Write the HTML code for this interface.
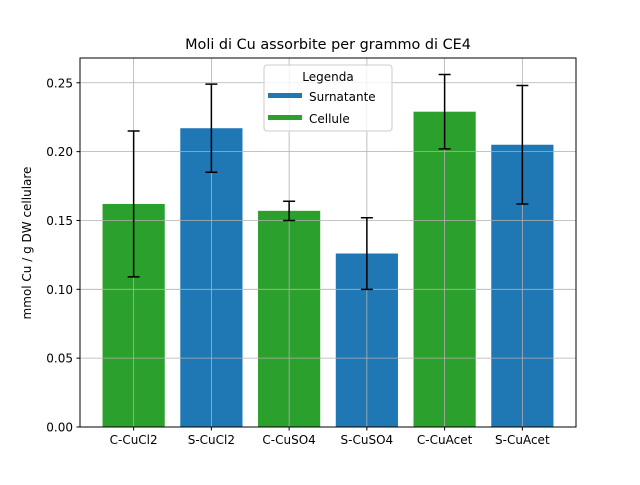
<!DOCTYPE html>
<html><head><meta charset="utf-8"><style>
html,body{margin:0;padding:0;background:#fff;}
svg text{font-family:"DejaVu Sans","Liberation Sans",sans-serif;}
</style></head><body>
<svg id="chart" width="640" height="480" xmlns="http://www.w3.org/2000/svg">
<rect width="640" height="480" fill="#fff"/>
<text x="328" y="49" font-size="14.4" text-anchor="middle" fill="#000">Moli di Cu assorbite per grammo di CE4</text>
<g id="bars"></g>
<g id="grid"></g>
<g id="errs"></g>
<rect x="80" y="58" width="496" height="369" fill="none" stroke="#000" stroke-width="1"/>
<g id="ticks"></g>
<text transform="translate(31,243) rotate(-90)" font-size="12" text-anchor="middle">mmol Cu / g DW cellulare</text>
<g>
<rect x="264" y="65" width="128" height="66" rx="3" fill="#fff" fill-opacity="0.8" stroke="#ccc"/>
<text x="328" y="81" font-size="12" text-anchor="middle">Legenda</text>
<rect x="268" y="93" width="34" height="5" fill="#1f77b4"/>
<text x="309" y="101" font-size="12">Surnatante</text>
<rect x="268" y="115" width="34" height="5" fill="#2ca02c"/>
<text x="309" y="123" font-size="12">Cellule</text>
</g>
</svg>
<script>
const categories=["C-CuCl2","S-CuCl2","C-CuSO4","S-CuSO4","C-CuAcet","S-CuAcet"];
const values=[0.162,0.217,0.157,0.126,0.229,0.205];
const errors=[0.053,0.032,0.007,0.026,0.027,0.043];
const groups=["C","S","C","S","C","S"];
const yTicks=[0,0.05,0.10,0.15,0.20,0.25];
const yTickLabels=["0.00","0.05","0.10","0.15","0.20","0.25"];
const L=80,R=576,T=58,B=427,xmin=-0.69,xmax=5.69,ymax=0.268;
const xs=i=>L+(i-xmin)/(xmax-xmin)*(R-L);
const ys=v=>B-v/ymax*(B-T);
const NS="http://www.w3.org/2000/svg";
function mk(tag,attrs,parent){const e=document.createElementNS(NS,tag);for(const k in attrs)e.setAttribute(k,attrs[k]);document.getElementById(parent).appendChild(e);return e;}
const bw=(0.8)/(xmax-xmin)*(R-L);
categories.forEach((c,i)=>{
 const r=mk('rect',{x:xs(i)-bw/2,y:ys(values[i]),width:bw,height:B-ys(values[i]),fill:groups[i]==="C"?"#2ca02c":"#1f77b4"},'bars');
 
 
 const g=mk('line',{x1:xs(i),x2:xs(i),y1:T,y2:B,stroke:"#b0b0b0","stroke-width":0.8},'grid');
 
 
 const top=ys(values[i]+errors[i]),bot=ys(values[i]-errors[i]);
 const e=mk('path',{d:`M${xs(i)},${top}V${bot}M${xs(i)-6},${top}H${xs(i)+6}M${xs(i)-6},${bot}H${xs(i)+6}`,stroke:"#000","stroke-width":1.5,fill:"none"},'errs');
 
 
 mk('line',{x1:xs(i),x2:xs(i),y1:B,y2:B+3.5,stroke:"#000"},'ticks');
 const t=mk('text',{x:xs(i),y:B+17,"font-size":12,"text-anchor":"middle"},'ticks');
 t.textContent=c;
 
 
});
yTicks.forEach((v,i)=>{
 const g=mk('line',{x1:L,x2:R,y1:ys(v),y2:ys(v),stroke:"#b0b0b0","stroke-width":0.8},'grid');
 
 
 mk('line',{x1:L-3.5,x2:L,y1:ys(v),y2:ys(v),stroke:"#000"},'ticks');
 const t=mk('text',{x:L-7,y:ys(v)+4.5,"font-size":12,"text-anchor":"end"},'ticks');
 t.textContent=yTickLabels[i];
 
 
});
</script>
</body></html>
